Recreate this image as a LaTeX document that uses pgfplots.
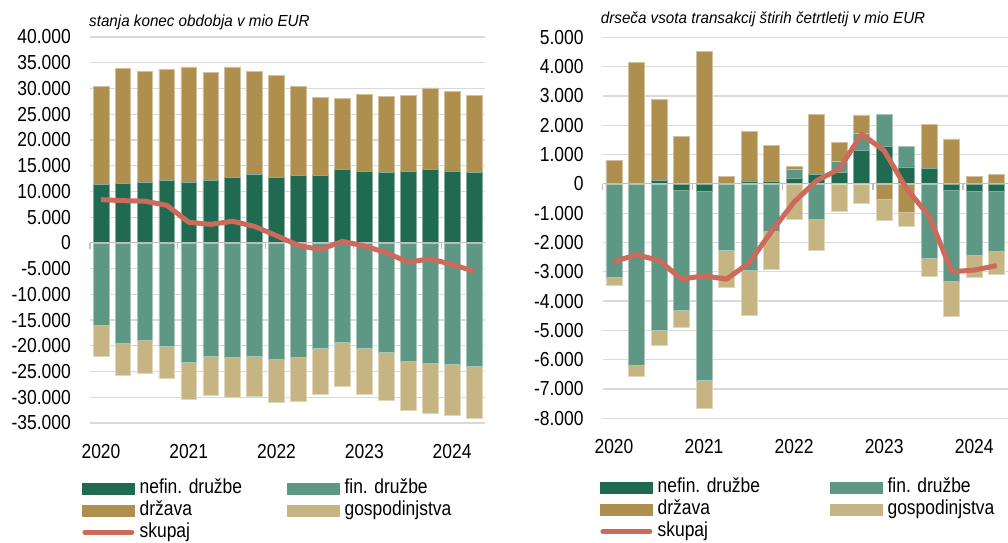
\documentclass[border=0pt]{standalone}
\usepackage{fontspec}
\setmainfont{Liberation Sans}
\newfontfamily\narrowfont[FakeStretch=0.86]{Liberation Sans}
\newfontfamily\titlefont[FakeStretch=0.95]{Liberation Sans}
\usepackage{pgfplots}
\pgfplotsset{compat=1.18}
\usepackage{pgfplotstable}

\definecolor{cNefin}{HTML}{1F6A50}
\definecolor{cFin}{HTML}{5E9784}
\definecolor{cDrz}{HTML}{AE8F4E}
\definecolor{cGosp}{HTML}{C6B482}
\definecolor{cSk}{HTML}{CC6B5B}
\definecolor{cGrid}{HTML}{D9D9D9}
\definecolor{cZero}{HTML}{BFBFBF}

\newcommand\tickfont{\narrowfont\fontsize{20.3}{22}\selectfont}

% stanja konec obdobja (mio EUR)
\pgfplotstableread{
x nefin drz fin gosp sk
0 11300 19100 -16100 -5900 8400
1 11600 22250 -19600 -6100 8200
2 11700 21600 -19000 -6300 8100
3 12100 21600 -20000 -6400 7300
4 11700 22500 -23300 -7100 4000
5 12200 20900 -22000 -7600 3600
6 12750 21450 -22200 -7900 4200
7 13300 20000 -21950 -7850 3200
8 12750 19850 -22600 -8400 1400
9 13100 17300 -22300 -8550 -500
10 13100 15100 -20500 -9000 -1300
11 14200 13900 -19400 -8500 300
12 13900 15000 -20400 -9100 -600
13 13700 14800 -21300 -9300 -1900
14 13900 14800 -23000 -9600 -3750
15 14200 15900 -23400 -9800 -3100
16 14000 15500 -23600 -10000 -4200
17 13700 14900 -23900 -10200 -5500
}\leftdata

% drseca vsota transakcij stirih cetrtletij (mio EUR)
\pgfplotstableread{
x nefin fin drz gosp sk
0 0 -3180 800 -270 -2650
1 0 -6190 4130 -370 -2420
2 110 -4990 2780 -530 -2610
3 -220 -4090 1630 -590 -3250
4 -240 -6480 4510 -930 -3140
5 0 -2270 260 -1260 -3250
6 100 -2950 1680 -1520 -2700
7 70 -1620 1230 -1310 -1620
8 190 310 90 -1210 -620
9 320 -1210 2050 -1060 110
10 380 380 650 -920 500
11 1130 590 630 -680 1700
12 1290 1080 -540 -700 1130
13 580 710 -970 -490 -170
14 520 -2530 1520 -610 -1100
15 -220 -3120 1530 -1170 -3000
16 -240 -2200 260 -750 -2940
17 -260 -2040 330 -800 -2790
}\rightdata

\pgfplotsset{
  panel/.style={scale only axis, enlargelimits=false, xmin=-0.5, xmax=17.5, clip=false},
  visible/.style={
    axis line style={draw=none},
    ymajorgrids, grid style={cGrid, line width=1.2pt},
    major tick length=0pt,
    scaled y ticks=false,
    xtick={0,4,8,12,16}, xticklabels={2020,2021,2022,2023,2024},
    ticklabel style={font=\tickfont},
    yticklabel style={anchor=east, inner sep=0pt, xshift=-19pt},
    xticklabel style={anchor=north, inner sep=0pt, yshift=-21pt},
    /pgf/number format/assume math mode=true,
    /pgf/number format/1000 sep={.},
    /pgf/number format/fixed,
  },
  leg/.style={
    legend columns=2,
    legend cell align=left,
    legend style={at={(axis description cs:0,0)}, anchor=north west,
      draw=none, fill=none, inner sep=0pt, font=\tickfont, row sep=4pt,
      /tikz/every odd column/.append style={column sep=5pt},
      /tikz/every even column/.append style={column sep=#1},
      nodes={inner sep=0pt, text height=14pt, text depth=4pt}},
  },
  sw/.style={legend image code/.code={\fill[#1] (0pt,-5.5pt) rectangle (52pt,5.5pt);}},
  bar/.style={fill=#1, draw=#1!55!white, line width=0.6pt},
}

\begin{document}
\begin{tikzpicture}
\useasboundingbox (0pt,0pt) rectangle (1008pt,542pt);

% ---------------- LEFT PANEL ----------------
\begin{axis}[panel, visible, at={(90pt,119pt)}, anchor=south west, width=395pt, height=386pt,
  ymin=-35000, ymax=40000, ytick={-35000,-30000,...,40000},
  ybar stacked, bar width=15.7pt]
  \addplot[bar=cNefin] table[x=x, y=nefin]{\leftdata};
  \addplot[bar=cDrz] table[x=x, y=drz]{\leftdata};
\end{axis}
\begin{axis}[panel, hide axis, at={(90pt,119pt)}, anchor=south west, width=395pt, height=386pt,
  ymin=-35000, ymax=40000, ybar stacked, bar width=15.7pt]
  \addplot[bar=cFin] table[x=x, y=fin]{\leftdata};
  \addplot[bar=cGosp] table[x=x, y=gosp]{\leftdata};
\end{axis}
\begin{axis}[panel, hide axis, at={(90pt,119pt)}, anchor=south west, width=395pt, height=386pt,
  ymin=-35000, ymax=40000, leg=45pt, legend style={xshift=-8pt, yshift=-56pt}]
  \draw[cZero, line width=1.2pt] (axis cs:-0.5,0) -- (axis cs:17.5,0);
  \pgfplotsinvokeforeach{-0.5,3.5,7.5,11.5,15.5}{
    \draw[cZero, line width=1.2pt] (axis cs:#1,0) -- ([yshift=-6pt]axis cs:#1,0);}
  \addlegendimage{sw=cNefin}\addlegendentry{nefin. družbe}
  \addlegendimage{sw=cFin}\addlegendentry{fin. družbe}
  \addlegendimage{sw=cDrz}\addlegendentry{država}
  \addlegendimage{sw=cGosp}\addlegendentry{gospodinjstva}
  \addplot[cSk, line width=5pt, line join=round, mark=none,
    legend image code/.code={\draw[cSk, line width=5pt, line cap=round] (2.5pt,0pt) -- (49.5pt,0pt);}]
    table[x=x, y=sk]{\leftdata};
  \addlegendentry{skupaj}
\end{axis}

% ---------------- RIGHT PANEL ----------------
\begin{axis}[panel, visible, at={(602.7pt,123.7pt)}, anchor=south west, width=405.3pt, height=381pt,
  ymin=-8000, ymax=5000, ytick={-8000,-7000,...,5000},
  ybar stacked, bar width=16pt]
  \addplot[bar=cNefin] table[x=x, y expr={max(\thisrow{nefin},0)}]{\rightdata};
  \addplot[bar=cFin] table[x=x, y expr={max(\thisrow{fin},0)}]{\rightdata};
  \addplot[bar=cDrz] table[x=x, y expr={max(\thisrow{drz},0)}]{\rightdata};
\end{axis}
\begin{axis}[panel, hide axis, at={(602.7pt,123.7pt)}, anchor=south west, width=405.3pt, height=381pt,
  ymin=-8000, ymax=5000, ybar stacked, bar width=16pt]
  \addplot[bar=cNefin] table[x=x, y expr={min(\thisrow{nefin},0)}]{\rightdata};
  \addplot[bar=cFin] table[x=x, y expr={min(\thisrow{fin},0)}]{\rightdata};
  \addplot[bar=cDrz] table[x=x, y expr={min(\thisrow{drz},0)}]{\rightdata};
  \addplot[bar=cGosp] table[x=x, y expr={min(\thisrow{gosp},0)}]{\rightdata};
\end{axis}
\begin{axis}[panel, hide axis, at={(602.7pt,123.7pt)}, anchor=south west, width=405.3pt, height=381pt,
  ymin=-8000, ymax=5000, leg=70pt, legend style={xshift=-2.7pt, yshift=-60pt}]
  \draw[cZero, line width=1.2pt] (axis cs:-0.5,0) -- (axis cs:17.5,0);
  \pgfplotsinvokeforeach{-0.5,3.5,7.5,11.5,15.5}{
    \draw[cZero, line width=1.2pt] (axis cs:#1,0) -- ([yshift=-6pt]axis cs:#1,0);}
  \addlegendimage{sw=cNefin}\addlegendentry{nefin. družbe}
  \addlegendimage{sw=cFin}\addlegendentry{fin. družbe}
  \addlegendimage{sw=cDrz}\addlegendentry{država}
  \addlegendimage{sw=cGosp}\addlegendentry{gospodinjstva}
  \addplot[cSk, line width=5pt, line join=round, mark=none,
    legend image code/.code={\draw[cSk, line width=5pt, line cap=round] (2.5pt,0pt) -- (49.5pt,0pt);}]
    table[x=x, y=sk]{\rightdata};
  \addlegendentry{skupaj}
\end{axis}

% titles
\node[anchor=base west, inner sep=0pt, font=\titlefont\itshape\fontsize{16}{18}\selectfont] at (89pt,515.3pt) {stanja konec obdobja v mio EUR};
\node[anchor=base west, inner sep=0pt, font=\titlefont\itshape\fontsize{16}{18}\selectfont] at (600.7pt,518pt) {drseča vsota transakcij štirih četrtletij v mio EUR};
\end{tikzpicture}
\end{document}
